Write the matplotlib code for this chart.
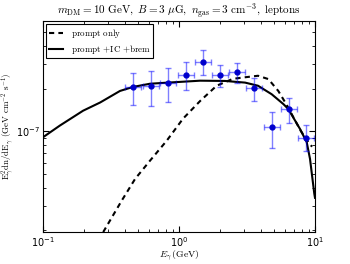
import matplotlib
matplotlib.use('Agg')
import matplotlib.pyplot as plt

# measured points (GeV, GeV cm^-2 s^-1)
E_data = [0.461, 0.622, 0.834, 1.12, 1.49, 2.0, 2.67, 3.57, 4.83, 6.40, 8.63]
E_lo = [0.402, 0.543, 0.728, 0.978, 1.30, 1.75, 2.33, 3.12, 4.22, 5.59, 7.53]
E_hi = [0.528, 0.713, 0.956, 1.28, 1.71, 2.29, 3.06, 4.09, 5.54, 7.33, 9.89]
flux = [2.07, 2.10, 2.20, 2.50, 3.10, 2.51, 2.63, 2.02, 1.07, 1.43, 0.90]
flux_hi = [2.60, 2.68, 2.79, 3.08, 3.76, 2.95, 3.06, 2.40, 1.36, 1.72, 1.11]
flux_lo = [1.53, 1.50, 1.60, 1.96, 2.51, 2.07, 2.18, 1.63, 0.76, 1.14, 0.73]

# model curves (flux in units of 1e-7)
E_prompt = [0.277, 0.379, 0.475, 0.612, 0.812, 1.07, 1.43, 1.89, 2.49, 3.06,
            3.81, 4.54, 5.37, 6.19, 7.85, 8.93, 9.51]
F_prompt = [0.195, 0.325, 0.462, 0.622, 0.86, 1.23, 1.64, 2.10, 2.35, 2.41,
            2.47, 2.34, 1.93, 1.54, 1.01, 0.84, 0.78]
E_total = [0.1, 0.133, 0.197, 0.263, 0.368, 0.459, 0.612, 0.83, 1.43, 2.18,
           3.06, 3.81, 4.80, 5.85, 6.36, 7.76, 8.69, 9.19, 9.88, 10.0]
F_total = [0.91, 1.10, 1.40, 1.60, 1.93, 2.06, 2.17, 2.21, 2.28, 2.27,
           2.21, 2.10, 1.83, 1.56, 1.44, 1.04, 0.84, 0.64, 0.364, 0.34]

scale = 1e-7


def main():
    plt.rcParams['xtick.direction'] = 'in'
    plt.rcParams['ytick.direction'] = 'in'
    plt.rcParams['xtick.top'] = True
    plt.rcParams['ytick.right'] = True

    fig = plt.figure(figsize=(3.5, 2.64), dpi=100)
    ax = fig.add_axes([0.123, 0.121, 0.777, 0.799])

    ax.plot(E_prompt, [f * scale for f in F_prompt], color='black', lw=1.5,
            ls=(0, (2.5, 2)), label=r'$\mathrm{prompt\ only}$')
    ax.plot(E_total, [f * scale for f in F_total], color='black', lw=1.5,
            label=r'$\mathrm{prompt\ {+}IC\ {+}brem}$')

    y = [f * scale for f in flux]
    yerr = [[(f - lo) * scale for f, lo in zip(flux, flux_lo)],
            [(hi - f) * scale for f, hi in zip(flux, flux_hi)]]
    xerr = [[e - lo for e, lo in zip(E_data, E_lo)],
            [hi - e for e, hi in zip(E_data, E_hi)]]
    ax.errorbar(E_data, y, yerr=yerr, xerr=xerr, fmt='none', ecolor='#0000ff',
                alpha=0.5, elinewidth=1.0, capsize=2)
    ax.plot(E_data, y, 'o', color='#0000cc', ms=3.5, mec='#0000cc')

    ax.set_xscale('log')
    ax.set_yscale('log')
    ax.set_xlim(0.1, 10)
    ax.set_ylim(1.95e-8, 6e-7)
    ax.tick_params(which='major', length=4, labelsize=7, pad=2)
    ax.tick_params(which='minor', length=2)

    ax.set_title(r'$m_{\rm DM}=10\ \mathrm{GeV},\ B=3\ \mu\mathrm{G},\ '
                 r'n_{\rm gas}=3\ \mathrm{cm^{-3}},\ \mathrm{leptons}$',
                 fontsize=8, math_fontfamily='cm', pad=3)
    ax.set_xlabel(r'$E_\gamma\,\mathrm{(GeV)}$', fontsize=7, math_fontfamily='cm',
                  labelpad=0)
    ax.set_ylabel(r'$\mathrm{E_\gamma^2dn/dE_\gamma\ (GeV\ cm^{-2}\ s^{-1})}$',
                  fontsize=6.5, math_fontfamily='cm')
    ax.yaxis.set_label_coords(-0.094, 0.5)

    leg = ax.legend(loc='upper left', fontsize=6.5, handlelength=1.6,
                    fancybox=False, edgecolor='black', framealpha=1,
                    borderaxespad=0.35, labelspacing=0.3, borderpad=0.3)
    leg.get_frame().set_linewidth(0.8)
    for t in leg.get_texts():
        t.set_math_fontfamily('cm')

    plt.savefig('out.png', dpi=100)
    plt.close()


if __name__ == "__main__":
    main()
